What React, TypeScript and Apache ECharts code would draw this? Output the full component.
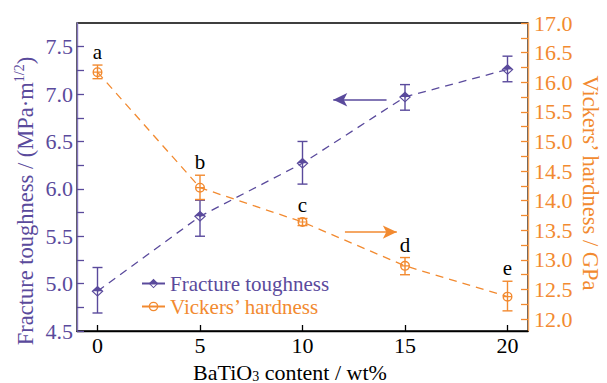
import React, { useEffect, useRef } from 'react';
import * as echarts from 'echarts';

const content = [0, 5, 10, 15, 20];
const toughness = [4.92, 5.71, 6.27, 6.97, 7.26];
const toughnessLow = [4.69, 5.5, 6.05, 6.83, 7.13];
const toughnessHigh = [5.17, 5.88, 6.5, 7.1, 7.4];
const hardness = [16.17, 14.22, 13.64, 12.9, 12.38];
const hardnessLow = [16.06, 14.02, 13.58, 12.75, 12.14];
const hardnessHigh = [16.29, 14.43, 13.7, 13.04, 12.64];
const sampleLabels = ['a', 'b', 'c', 'd', 'e'];

const xTicks = [0, 5, 10, 15, 20];
const leftLabels = [4.5, 5.0, 5.5, 6.0, 6.5, 7.0, 7.5];
const leftTicks = [4.5, 4.75, 5.0, 5.25, 5.5, 5.75, 6.0, 6.25, 6.5, 6.75, 7.0, 7.25, 7.5];
const rightLabels = [12.0, 12.5, 13.0, 13.5, 14.0, 14.5, 15.0, 15.5, 16.0, 16.5, 17.0];
const rightTicks = [12.0, 12.25, 12.5, 12.75, 13.0, 13.25, 13.5, 13.75, 14.0, 14.25, 14.5, 14.75, 15.0, 15.25, 15.5, 15.75, 16.0, 16.25, 16.5, 16.75, 17.0];

const toughnessArrow = [[14.1, 6.94], [11.5, 6.94]];
const hardnessArrow = [[12.07, 13.47], [14.6, 13.47]];

const PURPLE = '#5a4a9c';
const PURPLE_AXIS = '#8576bd';
const ORANGE = '#f28a30';
const ORANGE_AXIS = '#f5a55e';
const FONT = 'Liberation Serif';

const DIAMOND = 'path://M6,0 L12,5 L6,10 L0,5 Z M1.7,5 L6,8.6 L10.3,5 Z';
const RING = 'path://M0,5 A5,5 0 1,1 10,5 A5,5 0 1,1 0,5 Z M1.4,5 A3.6,3.6 0 1,0 8.6,5 A3.6,3.6 0 1,0 1.4,5 Z M1.4,4.4 L8.6,4.4 L8.6,5.6 L1.4,5.6 Z';

function errorRenderer(color: string, letters?: string[]) {
  return (params: any, api: any) => {
    const x = api.value(0);
    const lo = api.value(1);
    const hi = api.value(2);
    const pLo = api.coord([x, lo]);
    const pHi = api.coord([x, hi]);
    const half = 5;
    const ls = { stroke: color, lineWidth: 1.4 };
    const children: any[] = [
      { type: 'line', shape: { x1: pLo[0], y1: pLo[1], x2: pHi[0], y2: pHi[1] }, style: ls },
      { type: 'line', shape: { x1: pLo[0] - half, y1: pLo[1], x2: pLo[0] + half, y2: pLo[1] }, style: ls },
      { type: 'line', shape: { x1: pHi[0] - half, y1: pHi[1], x2: pHi[0] + half, y2: pHi[1] }, style: ls },
    ];
    if (letters) {
      children.push({
        type: 'text',
        x: pHi[0],
        y: pHi[1] - 13,
        style: {
          text: letters[params.dataIndex],
          fill: '#000',
          fontSize: 21,
          fontFamily: FONT,
          align: 'center',
          verticalAlign: 'middle',
        },
      });
    }
    return { type: 'group', children };
  };
}

export default function App() {
  const ref = useRef<HTMLDivElement>(null);
  useEffect(() => {
    if (!ref.current) return;
    const chart = echarts.init(ref.current, undefined, { renderer: 'svg' });
    const option: any = {
      animation: false,
      textStyle: { fontFamily: FONT },
      grid: { left: 77, right: 79, top: 23, bottom: 52, show: true, borderColor: '#000', borderWidth: 1.3, backgroundColor: 'transparent' },
      legend: {
        orient: 'vertical',
        left: 136,
        top: 268,
        itemWidth: 23,
        itemHeight: 12,
        itemGap: 2,
        textStyle: { fontSize: 21, fontFamily: FONT },
        lineStyle: { type: 'solid' },
        data: [
          { name: 'Fracture toughness', textStyle: { color: PURPLE, fontSize: 21, fontFamily: FONT } },
          { name: 'Vickers’ hardness', textStyle: { color: ORANGE, fontSize: 21, fontFamily: FONT } },
        ],
      },
      xAxis: {
        type: 'value',
        min: -1,
        max: 21,
        splitLine: { show: false },
        axisLine: { show: true, onZero: false, lineStyle: { color: '#000', width: 1.3 } },
        axisTick: { show: true, inside: true, length: 6, customValues: xTicks, lineStyle: { color: '#000', width: 1.3 } },
        axisLabel: { customValues: xTicks, color: '#000', fontSize: 22, fontFamily: FONT, margin: 3 },
      },
      yAxis: [
        {
          type: 'value',
          position: 'left',
          min: 4.5,
          max: 7.75,
          splitLine: { show: false },
          axisLine: { show: true, onZero: false, lineStyle: { color: PURPLE_AXIS, width: 1.4 } },
          axisTick: { show: true, inside: true, length: 7, customValues: leftTicks, lineStyle: { color: PURPLE, width: 1.3 } },
          axisLabel: { customValues: leftLabels, formatter: (v: number) => v.toFixed(1), color: PURPLE, fontSize: 22, fontFamily: FONT, margin: 4 },
        },
        {
          type: 'value',
          position: 'right',
          min: 11.8,
          max: 17.0,
          splitLine: { show: false },
          axisLine: { show: true, onZero: false, lineStyle: { color: ORANGE_AXIS, width: 1.4 } },
          axisTick: { show: true, inside: true, length: 7, customValues: rightTicks, lineStyle: { color: ORANGE, width: 1.3 } },
          axisLabel: { customValues: rightLabels, formatter: (v: number) => v.toFixed(1), color: ORANGE, fontSize: 22, fontFamily: FONT, margin: 6 },
        },
      ],
      series: [
        {
          type: 'custom',
          name: 'toughness-error',
          yAxisIndex: 0,
          z: 1,
          renderItem: errorRenderer(PURPLE),
          encode: { x: 0, y: [1, 2] },
          data: content.map((x, i) => [x, toughnessLow[i], toughnessHigh[i]]),
        },
        {
          type: 'custom',
          name: 'hardness-error',
          yAxisIndex: 1,
          z: 1,
          renderItem: errorRenderer(ORANGE, sampleLabels),
          encode: { x: 0, y: [1, 2] },
          data: content.map((x, i) => [x, hardnessLow[i], hardnessHigh[i]]),
        },
        {
          type: 'line',
          name: 'Fracture toughness',
          yAxisIndex: 0,
          z: 3,
          data: content.map((x, i) => [x, toughness[i]]),
          symbol: DIAMOND,
          symbolSize: [12, 11],
          itemStyle: { color: PURPLE },
          lineStyle: { color: PURPLE, width: 1.3, type: [8, 6] },
          markLine: {
            silent: true,
            symbol: ['none', 'arrow'],
            symbolSize: [10, 14],
            label: { show: false },
            lineStyle: { color: PURPLE, width: 1.6, type: 'solid' },
            data: [[{ coord: toughnessArrow[0] }, { coord: toughnessArrow[1] }]],
          },
        },
        {
          type: 'line',
          name: 'Vickers’ hardness',
          yAxisIndex: 1,
          z: 3,
          data: content.map((x, i) => [x, hardness[i]]),
          symbol: RING,
          symbolSize: 10,
          itemStyle: { color: ORANGE },
          lineStyle: { color: ORANGE, width: 1.3, type: [8, 6] },
          markLine: {
            silent: true,
            symbol: ['none', 'arrow'],
            symbolSize: [10, 14],
            label: { show: false },
            lineStyle: { color: ORANGE, width: 1.6, type: 'solid' },
            data: [[{ coord: hardnessArrow[0] }, { coord: hardnessArrow[1] }]],
          },
        },
      ],
      graphic: [
        {
          type: 'text',
          x: 25,
          y: 201,
          rotation: Math.PI / 2,
          style: {
            text: 'Fracture toughness / (MPa·m{sup|1/2})',
            fill: PURPLE,
            fontSize: 22.5,
            fontFamily: FONT,
            align: 'center',
            verticalAlign: 'middle',
            rich: {
              sup: { fontSize: 14, fontFamily: FONT, fill: PURPLE, verticalAlign: 'top', lineHeight: 25, padding: [0, 0, 6, 0] },
            },
          },
        },
        {
          type: 'text',
          x: 590,
          y: 183,
          rotation: -Math.PI / 2,
          style: {
            text: 'Vickers’ hardness / GPa',
            fill: ORANGE,
            fontSize: 22.5,
            fontFamily: FONT,
            align: 'center',
            verticalAlign: 'middle',
          },
        },
        {
          type: 'text',
          x: 290,
          y: 372,
          style: {
            text: 'BaTiO{sub|3} content / wt%',
            fill: '#000',
            fontSize: 22,
            fontFamily: FONT,
            align: 'center',
            verticalAlign: 'middle',
            rich: {
              sub: { fontSize: 14, fontFamily: FONT, fill: '#000', padding: [8, 0, 0, 0] },
            },
          },
        },
      ],
    };
    chart.setOption(option);
    return () => chart.dispose();
  }, []);
  return <div ref={ref} style={{ position: 'absolute', left: 0, top: 0, width: 607, height: 383 }} />;
}
